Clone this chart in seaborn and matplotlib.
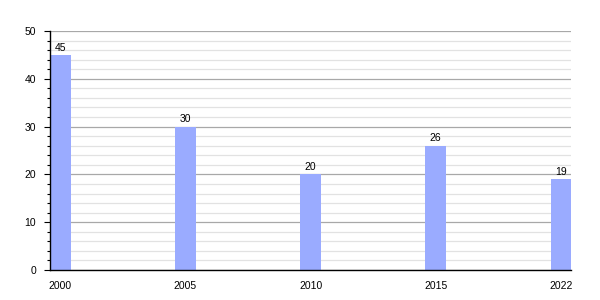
import matplotlib
matplotlib.use("Agg")
import matplotlib.pyplot as plt
import seaborn as sns
import pandas as pd
from matplotlib.ticker import MultipleLocator

years = ["2000", "2005", "2010", "2015", "2022"]
values = [45, 30, 20, 26, 19]

sns.set_theme(style="white")
plt.rcParams['font.family'] = ['Liberation Sans', 'DejaVu Sans']

df = pd.DataFrame({"year": years, "value": values})

fig = plt.figure(figsize=(6, 3), dpi=100)
ax = fig.add_axes([0.0833, 0.1, 0.952 - 0.0833, 0.8967 - 0.1])
bw = 0.165
sns.barplot(data=df, x="year", y="value", color="#9aabff", saturation=1,
            width=bw, ax=ax, zorder=2, edgecolor="none", linewidth=0, errorbar=None)
ax.set_xlim(-bw / 2, len(years) - 1 + bw / 2)
ax.set_ylim(0, 50)
ax.yaxis.set_major_locator(MultipleLocator(10))
ax.yaxis.set_minor_locator(MultipleLocator(2))
ax.grid(axis="y", which="major", color="#a8a8a8", linewidth=0.9)
ax.grid(axis="y", which="minor", color="#e2e2e2", linewidth=0.9)
ax.set_axisbelow(True)
for s in ["top", "right"]:
    ax.spines[s].set_visible(False)
for s in ["left", "bottom"]:
    ax.spines[s].set_color("black")
    ax.spines[s].set_linewidth(1)
    ax.spines[s].set_zorder(5)
ax.tick_params(axis="y", which="major", left=True, length=4, width=0.8, color="black",
               labelsize=7.5, pad=6, labelcolor="black")
ax.tick_params(axis="y", which="minor", left=True, length=2, width=0.8, color="black")
ax.tick_params(axis="x", bottom=False, labelsize=7.5, pad=2, labelcolor="black")
ax.set_xlabel("")
ax.set_ylabel("")
for i, v in enumerate(values):
    ax.text(i, v + 0.5, str(v), ha="center", va="bottom", fontsize=7.5, color="black")

fig.savefig("out.png", dpi=100)
